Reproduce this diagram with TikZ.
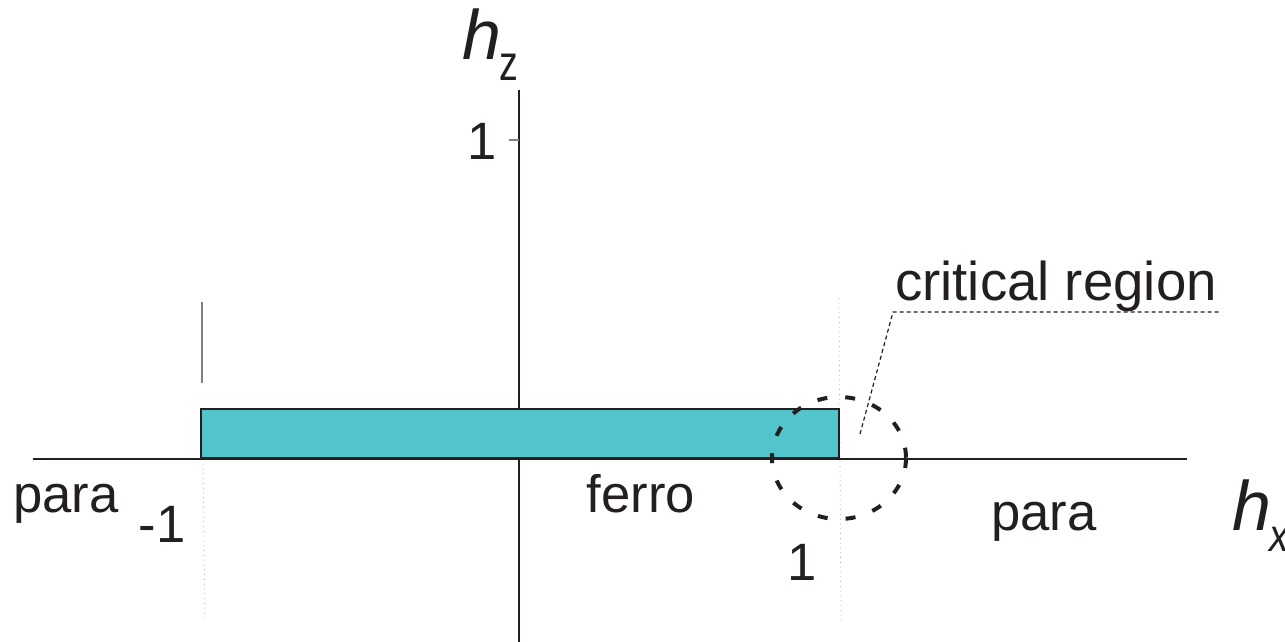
\documentclass[tikz,border=0pt]{standalone}
\usepackage{fontspec}
\setmainfont{Liberation Sans}
\definecolor{ferrocyan}{RGB}{82,196,204}
\definecolor{axisgray}{RGB}{35,31,32}
\tikzset{
  axisline/.style={draw=axisgray, line width=1.1pt},
  lbl/.style={inner sep=0pt, anchor=base, font=\fontsize{26.3}{30}\selectfont, text=axisgray},
  axlbl/.style={inner sep=0pt, font=\fontsize{35}{38}\selectfont\itshape, text=axisgray},
  guide/.style={draw=gray!70, line width=0.4pt, dotted},
  circ/.style={draw=axisgray, line width=2pt, dash pattern=on 5pt off 9pt},
  leader/.style={draw=axisgray, line width=0.6pt, dash pattern=on 2pt off 1.5pt},
}
\begin{document}
\begin{tikzpicture}[x=0.5pt,y=-0.5pt]
\useasboundingbox (0,0) rectangle (1285,642);
% coordinates
\coordinate (xl) at (33,459);
\coordinate (xr) at (1187,459);
\coordinate (yb) at (519,642);
\coordinate (yt) at (519,90);
% guides
\coordinate (lgt) at (202,302);
\coordinate (lgb) at (202,383);
\draw[draw=gray, line width=0.8pt] (lgt) -- (lgb);
\coordinate (ldt) at (203,459);
\coordinate (ldb) at (205,622);
\draw[guide] (ldt) -- (ldb);
\coordinate (rdt) at (839,298);
\coordinate (rdb) at (841,622);
\draw[guide] (rdt) -- (rdb);
% axes
\draw[axisline] (xl) -- (xr);
\draw[axisline] (yb) -- (yt);
\coordinate (tick) at (509,140);
\coordinate (tickax) at (519,140);
\draw[draw=gray, line width=0.6pt] (tick) -- (tickax);
% rectangle (ferro phase)
\node[draw=axisgray, line width=0.8pt, fill=ferrocyan, minimum width=319pt, minimum height=24.5pt, inner sep=0pt, anchor=south west] (ferrobox) at (200,459) {};
% critical circle
\coordinate (cc) at (839,458);
\draw[circ] (cc) ellipse[x radius=67, y radius=61];
% leader
\coordinate (la) at (860,434);
\coordinate (lb) at (893,312);
\coordinate (lc) at (1220,312);
\draw[leader] (la) -- (lb) -- (lc);
% labels
\node[lbl, font=\fontsize{27.3}{30}\selectfont] (crit) at (1056,300) {critical region};
\node[lbl] (paral) at (66,512) {para};
\node[lbl] (mone) at (162,542) {-1};
\node[lbl] (ferro) at (641,512) {ferro};
\node[lbl] (one) at (802,580) {1};
\node[lbl] (ytick) at (482,160) {1};
\node[lbl] (parar) at (1044,530) {para};
\node[axlbl, anchor=base west] (hz) at (462,60) {h\hspace{-0.02em}\raisebox{-0.3em}{\fontsize{25}{28}\selectfont\upshape\scalebox{0.75}[1]{z}}};
\node[axlbl, anchor=base west] (hx) at (1232,530) {h\hspace{-0.02em}\raisebox{-0.3em}{\fontsize{23}{26}\selectfont\scalebox{0.85}[1]{x}}};
\end{tikzpicture}
\end{document}
